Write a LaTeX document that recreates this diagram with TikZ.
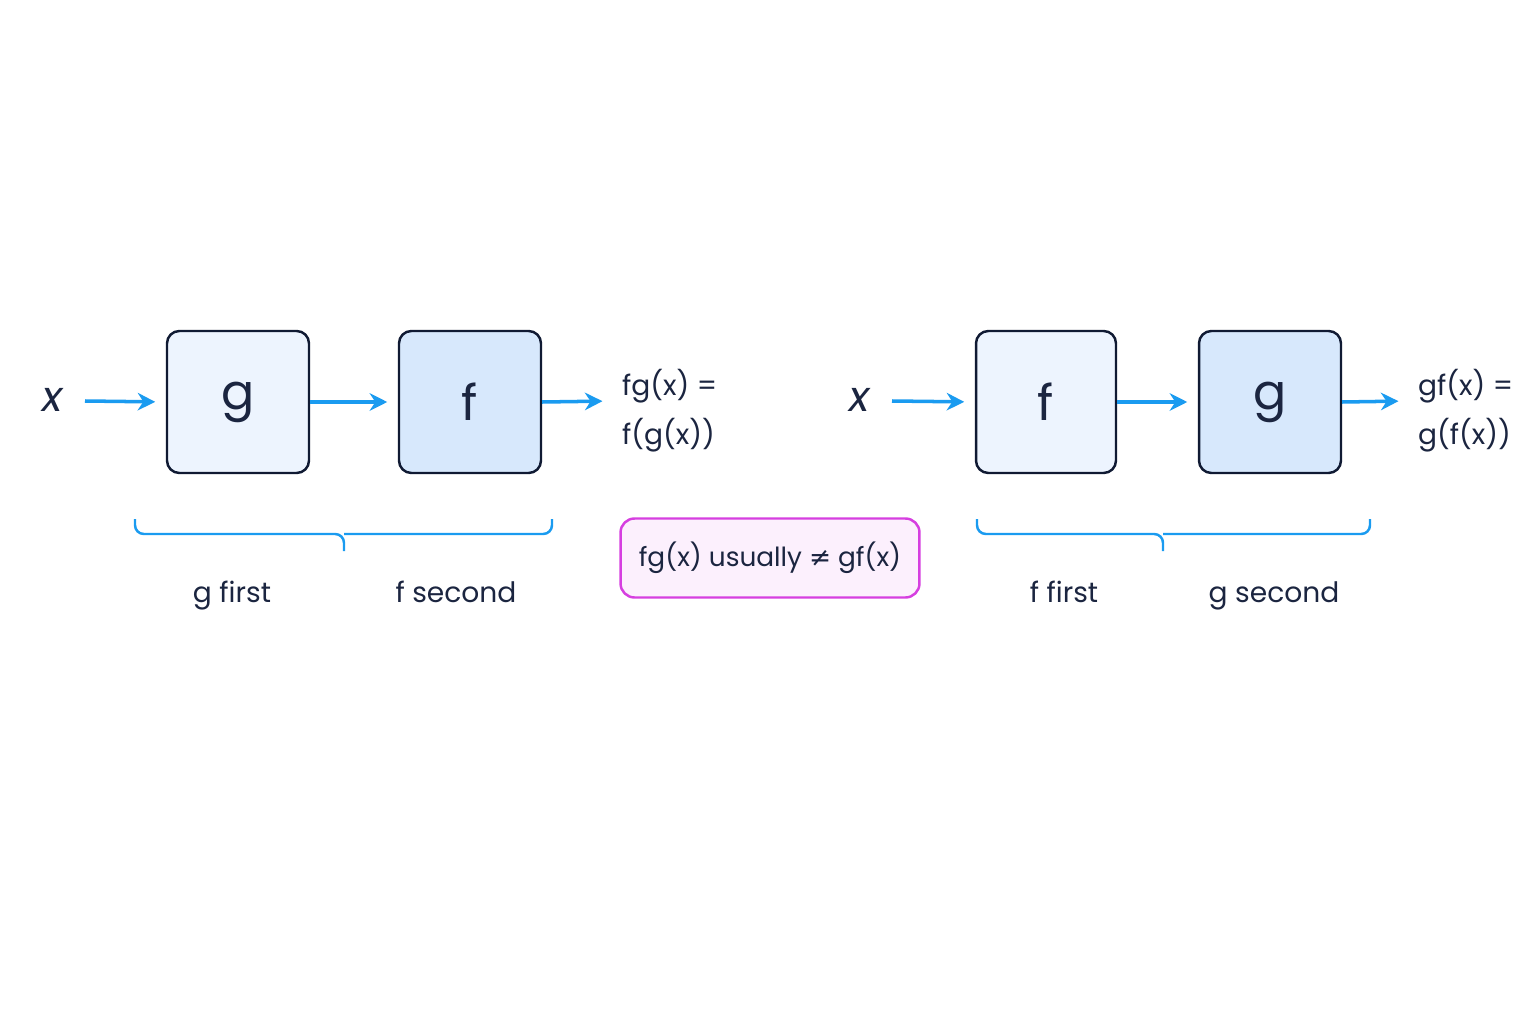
\documentclass[tikz,border=0pt]{standalone}
\usepackage{fontspec}
\setmainfont{Poppins}
\newfontfamily\symf{DejaVu Sans}
\usetikzlibrary{arrows.meta}
\definecolor{navy}{HTML}{101A33}
\definecolor{txt}{HTML}{1B2540}
\definecolor{arr}{HTML}{1A9BF0}
\definecolor{lfill}{HTML}{EDF4FE}
\definecolor{dfill}{HTML}{D7E8FC}
\definecolor{pinkb}{HTML}{D63FE0}
\definecolor{pinkf}{HTML}{FCF0FD}
\begin{document}
\begin{tikzpicture}[x=0.02cm,y=-0.02cm,
  fbox/.style={draw=navy,line width=1.4pt,rounded corners=7pt,minimum width=2.84cm,minimum height=2.84cm,font=\fontsize{28}{30}\selectfont,text=txt},
  flow/.style={draw=arr,line width=2pt,-{Stealth[length=10pt,width=10pt]},shorten >=6pt},
  brace/.style={draw=arr,line width=1.4pt,rounded corners=5pt},
  lab/.style={font=\fontsize{16}{28}\selectfont,text=txt},
  xl/.style={font=\fontsize{24}{26}\selectfont\itshape,text=txt}]
\fill[white!97!blue!2] (0,0) rectangle (1536,1024);
\useasboundingbox (0,0) rectangle (1536,1024);
% left
\node[xl] (x1) at (53,400) {x};
\node[fbox,fill=lfill] (g1) at (238,402) {g};
\node[fbox,fill=dfill] (f1) at (470,402) {f};
\coordinate (o1) at (613,401);
\draw[flow] (85,401) -- (g1.west);
\draw[flow] (g1.east) -- (f1.west);
\draw[flow] (f1.east) -- (o1);
\node[lab,anchor=west,align=left] (r1) at (616,411) {fg(x) =\\f(g(x))};
\draw[brace] (135,519) -- (135,534) -- (344,534) -- (344,551);
\draw[brace] (552,519) -- (552,534) -- (344,534);
\node[lab,anchor=base] (gf1) at (232,602) {g first};
\node[lab,anchor=base] (fs1) at (456,602) {f second};
% middle
\node[draw=pinkb,fill=pinkf,line width=1.4pt,rounded corners=8pt,minimum width=5.98cm,minimum height=1.58cm,lab,font=\fontsize{15}{18}\selectfont] (m) at (770,558) {fg(x) usually {\symf ≠} gf(x)};
% right
\node[xl] (x2) at (860,400) {x};
\node[fbox,fill=lfill,minimum width=2.8cm] (f2) at (1046,402) {f};
\node[fbox,fill=dfill] (g2) at (1270,402) {g};
\coordinate (o2) at (1409,401);
\draw[flow] (892,401) -- (f2.west);
\draw[flow] (f2.east) -- (g2.west);
\draw[flow] (g2.east) -- (o2);
\node[lab,anchor=west,align=left] (r2) at (1412,411) {gf(x) =\\g(f(x))};
\draw[brace] (977,519) -- (977,534) -- (1163,534) -- (1163,551);
\draw[brace] (1370,519) -- (1370,534) -- (1163,534);
\node[lab,anchor=base] (ff2) at (1064,602) {f first};
\node[lab,anchor=base] (gs2) at (1274,602) {g second};
\end{tikzpicture}
\end{document}
